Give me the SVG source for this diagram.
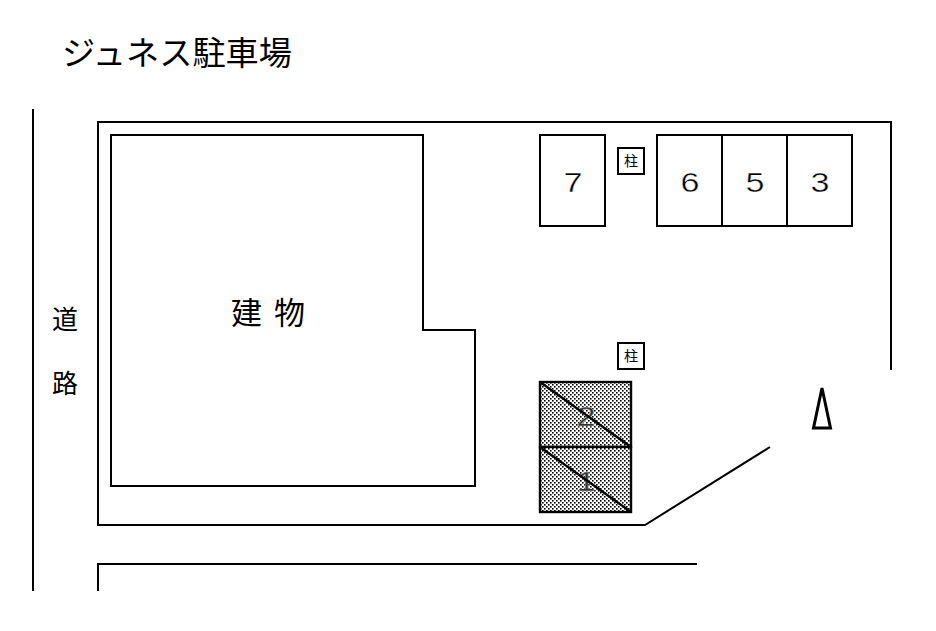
<svg xmlns="http://www.w3.org/2000/svg" width="936" height="631" viewBox="0 0 936 631">
<style>
.l{fill:none;stroke:#000;stroke-width:2}
.b{fill:#fff;stroke:#000;stroke-width:2}
.h{fill:url(#dots);stroke:#000;stroke-width:2.4}
.d{stroke:#000;stroke-width:2.4}
text{font-family:"Noto Sans CJK JP","Liberation Sans",sans-serif;fill:#000;text-anchor:middle}
.n{font-size:28px;font-family:"Liberation Sans","Noto Sans CJK JP",sans-serif;font-weight:400;stroke:#fff;stroke-width:.4px}
.m{font-size:28px;font-family:"Liberation Sans",sans-serif;fill:#333;stroke:#ccc;stroke-width:.4px}
.p{font-size:14px}
</style>
<defs>
<pattern id="dots" width="4" height="4" patternUnits="userSpaceOnUse"><rect width="4" height="4" fill="#fff"/><rect width="1.6" height="1.6" fill="#000"/><rect x="2" y="2" width="1.6" height="1.6" fill="#000"/></pattern>
</defs>
<rect width="936" height="631" fill="#fff"/>
<text x="177" y="65" font-size="33" id="title" textLength="230" lengthAdjust="spacingAndGlyphs">ジュネス駐車場</text>
<g id="site">
<polyline class="l" points="891,370 891,122 98,122 98,525 645,525 770,447"/>
<polyline class="l" points="98,591 98,564 697,564"/>
<line class="l" x1="33" y1="109" x2="33" y2="591"/>
</g>
<g id="road"><text x="65" y="329" font-size="26">道</text><text x="65" y="393" font-size="26">路</text></g>
<g id="building"><polygon class="b" points="111,135 423,135 423,330 475,330 475,486 111,486"/>
<text x="268" y="324" font-size="31" textLength="74" lengthAdjust="spacing">建 物</text></g>
<g id="space7"><rect class="b" x="540" y="135" width="65" height="91"/><text class="n" x="573" y="192" textLength="19" lengthAdjust="spacingAndGlyphs">7</text></g>
<g id="space6"><rect class="b" x="657" y="135" width="65" height="91"/><text class="n" x="690" y="192" textLength="19" lengthAdjust="spacingAndGlyphs">6</text></g>
<g id="space5"><rect class="b" x="722" y="135" width="65" height="91"/><text class="n" x="755" y="192" textLength="19" lengthAdjust="spacingAndGlyphs">5</text></g>
<g id="space3"><rect class="b" x="787" y="135" width="65" height="91"/><text class="n" x="820" y="192" textLength="19" lengthAdjust="spacingAndGlyphs">3</text></g>
<g id="pillar1"><rect class="b" x="618" y="148" width="26" height="26"/><text class="p" x="631" y="166">柱</text></g>
<g id="pillar2"><rect class="b" x="618" y="343" width="26" height="26"/><text class="p" x="631" y="361">柱</text></g>
<g id="space2"><rect class="h" x="540" y="382" width="91" height="65"/><text class="m" x="586" y="426" textLength="19" lengthAdjust="spacingAndGlyphs">2</text><line class="d" x1="540" y1="382" x2="631" y2="447"/></g>
<g id="space1"><rect class="h" x="540" y="447" width="91" height="65"/><text class="m" x="586" y="491" textLength="19" lengthAdjust="spacingAndGlyphs">1</text><line class="d" x1="540" y1="447" x2="631" y2="512"/></g>
<g id="north"><polygon points="822,388 830.5,428 813.5,428" fill="#fff" stroke="#000" stroke-width="3"/></g>
</svg>
